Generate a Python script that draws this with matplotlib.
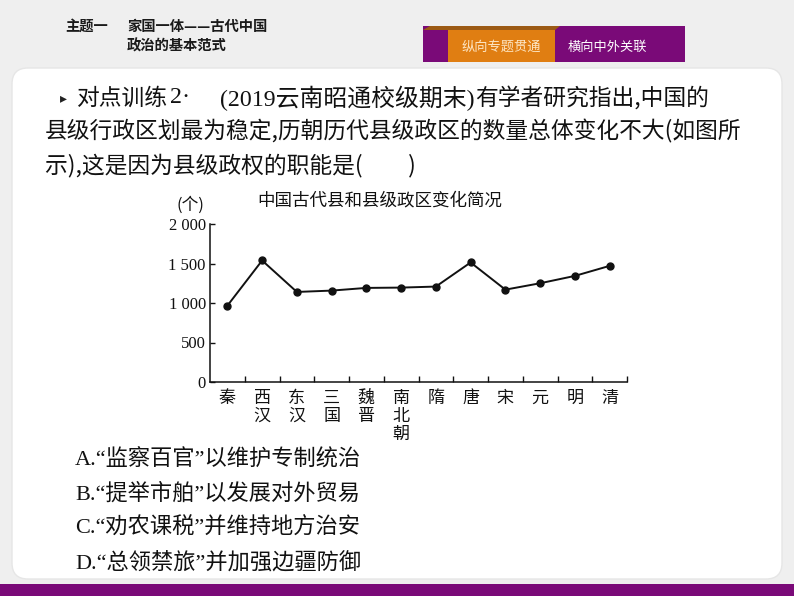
import matplotlib
matplotlib.use("Agg")
import matplotlib.pyplot as plt
from matplotlib.patches import FancyBboxPatch, Rectangle, Polygon

plt.rcParams['font.family'] = ['Noto Sans CJK SC', 'DejaVu Sans']

# ---------------- data ----------------
dynasties = ["秦", "西\n汉", "东\n汉", "三\n国", "魏\n晋", "南\n北\n朝",
             "隋", "唐", "宋", "元", "明", "清"]
county_counts = [966, 1538, 1140, 1157, 1191, 1195, 1208, 1513, 1169, 1250, 1343, 1470]
yticks = [0, 500, 1000, 1500, 2000]
ytick_labels = ["0", "500", "1 000", "1 500", "2 000"]
chart_title = "中国古代县和县级政区变化简况"
unit_label = "(个)"

header_topic = "主题一"
header_line1 = "家国一体——古代中国"
header_line2 = "政治的基本范式"
tab_left = "纵向专题贯通"
tab_right = "横向中外关联"

q_line2 = "县级行政区划最为稳定,历朝历代县级政区的数量总体变化不大(如图所"
q_line3 = "示),这是因为县级政权的职能是(　　)"
options = ["A.“监察百官”以维护专制统治",
           "B.“提举市舶”以发展对外贸易",
           "C.“劝农课税”并维持地方治安",
           "D.“总领禁旅”并加强边疆防御"]

W, H = 794, 596
PURPLE = "#7A0A78"
ORANGE = "#E07E12"

fig = plt.figure(figsize=(W / 100, H / 100), dpi=100)
fig.patch.set_facecolor("#EFEFEF")
tr = fig.dpi_scale_trans


def P(x, y):
    return (x / 100, (H - y) / 100)


def ftext(x, y, s, **kw):
    fig.text(*P(x, y), s, transform=tr, **kw)


# white rounded panel
fig.patches.append(FancyBboxPatch(P(12, 579), (782 - 12) / 100, (579 - 68) / 100,
                                  boxstyle="round,pad=0,rounding_size=0.16",
                                  transform=tr, facecolor="white", edgecolor="#E6E6E6",
                                  linewidth=1, zorder=-2))
# bottom purple bar
fig.patches.append(Rectangle(P(0, 596), W / 100, 12 / 100, transform=tr,
                             facecolor=PURPLE, edgecolor="none", zorder=-1))
# header tabs
fig.patches.append(Rectangle(P(423, 62), (685 - 423) / 100, 36 / 100, transform=tr,
                             facecolor=PURPLE, edgecolor="none", zorder=-1))
fig.patches.append(Rectangle(P(448, 62), (555 - 448) / 100, 32 / 100, transform=tr,
                             facecolor=ORANGE, edgecolor="none", zorder=-1))
fig.patches.append(Polygon([P(423, 30), P(430, 26), P(560, 26), P(555, 30)], closed=True,
                           transform=tr, facecolor="#9C5A14", edgecolor="none", zorder=-1))
ftext(501, 47, tab_left, fontsize=9.5, color="#FDE6C4", ha="center", va="center")
ftext(607, 47, tab_right, fontsize=9.5, color="white", ha="center", va="center")

# header text
ftext(65, 27, header_topic, fontsize=10.3, color="#1a1a1a", va="center", weight="bold")
ftext(127, 27, header_line1, fontsize=10.3, color="#1a1a1a", va="center", weight="bold")
ftext(127, 46, header_line2, fontsize=10.3, color="#1a1a1a", va="center", weight="bold")

# question text
QFS = 16.4
ftext(60, 98, "▸", fontsize=10, color="#222", va="center", family=["DejaVu Sans"])
ftext(77, 98, "对点训练", fontsize=QFS, color="#111", va="center")
ftext(170, 98, "2·", fontsize=QFS + 1, color="#111", va="center", family=["Liberation Serif"])
ftext(220, 98, "(2019云南昭通校级期末)", fontsize=17.2, color="#111", va="center",
      family=["Liberation Serif", "Noto Sans CJK SC"])
ftext(475, 98, "有学者研究指出,中国的", fontsize=QFS, color="#111", va="center")
ftext(45, 131, q_line2, fontsize=QFS, color="#111", va="center")
ftext(45, 165, q_line3, fontsize=QFS, color="#111", va="center")

opt_y = [460, 494, 528, 563]
for s, y in zip(options, opt_y):
    ftext(75, y, s, fontsize=16, color="#111", va="center",
          family=["Liberation Serif", "Noto Sans CJK SC"])

# ---------------- chart ----------------
ax_left, ax_right, ax_top, ax_bottom = 210, 627, 224, 382
ax = fig.add_axes([ax_left / W, 1 - ax_bottom / H, (ax_right - ax_left) / W,
                   (ax_bottom - ax_top) / H])
ax.set_zorder(5)
ax.patch.set_visible(False)
xs = [i + 0.5 for i in range(len(county_counts))]
ax.plot(xs, county_counts, color="#111", linewidth=1.4, marker="o", markersize=5,
        markerfacecolor="#111", markeredgecolor="#111", zorder=3, clip_on=False)
ax.set_xlim(0, len(county_counts))
ax.set_ylim(0, 2000)
for side in ("top", "right"):
    ax.spines[side].set_visible(False)
for side in ("left", "bottom"):
    ax.spines[side].set_linewidth(1.1)
    ax.spines[side].set_color("#111")

ax.set_yticks(yticks)
ax.set_yticklabels(ytick_labels, family=["Liberation Serif"], fontsize=12, color="#111")
ax.tick_params(axis="y", direction="in", length=3.5, width=1, pad=3, color="#111")

ax.set_xticks(xs)
ax.set_xticklabels(dynasties, fontsize=12.3, color="#111", linespacing=1.0, va="top")
ax.tick_params(axis="x", which="major", length=0, pad=5)
ax.set_xticks(range(1, len(county_counts) + 1), minor=True)
ax.tick_params(axis="x", which="minor", direction="in", length=4, width=1, color="#111")

ftext(380, 200, chart_title, fontsize=12.6, color="#111", ha="center", va="center")
ftext(190, 205, unit_label, fontsize=12, color="#111", ha="center", va="center")

fig.savefig("out.png", dpi=100, facecolor=fig.get_facecolor())
